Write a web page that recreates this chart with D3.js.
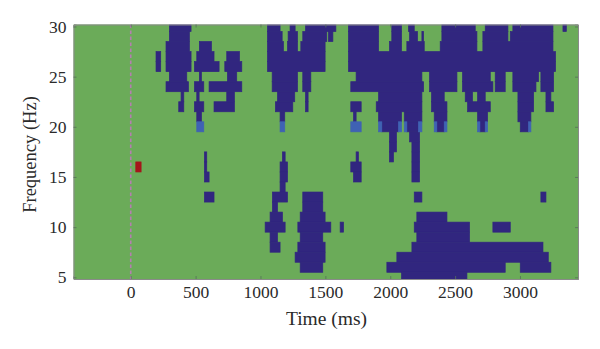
<!DOCTYPE html>
<html lang="en">
<head>
    <meta charset="utf-8" />
    <title>Time-frequency map</title>
    <script src="https://d3js.org/d3.v7.min.js"></script>
    <style>
        html, body { margin: 0; background: #fff; }
        text { font-family: "Liberation Serif", serif; fill: #2a2a2a; }
    </style>
</head>
<body>
    <div id="chart-container"></div>
    <script>
        // Tick labels
        const timeTicks = [0, 500, 1000, 1500, 2000, 2500, 3000];
        const freqTicks = [5, 10, 15, 20, 25, 30];

        // Frequency rows (Hz), top to bottom
        const freqs = [30, 29, 28, 27, 26, 25, 24, 23, 22, 21, 20, 19, 18, 17, 16, 15, 14, 13, 12, 11, 10, 9, 8, 7, 6, 5];

        // Dark blue runs in every row, [start ms, end ms], same order as freqs
        const darkRuns = [
            [[298, 465], [1054, 1151], [1228, 1267], [1347, 1581], [1678, 1910], [2012, 2087], [2141, 2185], [2398, 2655], [2732, 2907], [2945, 3254], [3331, 3357]],
            [[298, 452], [1054, 1167], [1213, 1285], [1326, 1511], [1524, 1558], [1678, 1910], [2012, 2087], [2149, 2210], [2244, 2257], [2398, 2668], [2714, 2907], [2925, 3254]],
            [[272, 452], [529, 622], [1054, 1177], [1208, 1285], [1311, 1498], [1678, 1910], [1994, 2087], [2128, 2262], [2385, 2668], [2714, 3254]],
            [[195, 231], [272, 465], [509, 642], [740, 838], [1054, 1498], [1678, 3274]],
            [[195, 231], [272, 465], [491, 681], [725, 856], [1054, 1498], [1678, 3274]],
            [[298, 432], [529, 545], [745, 817], [1090, 1285], [1326, 1388], [1737, 2244], [2303, 2514], [2557, 2771], [2809, 2886], [2945, 3143], [3161, 3259]],
            [[272, 445], [491, 563], [604, 856], [1090, 1285], [1326, 1388], [1696, 2257], [2303, 2514], [2557, 2791], [2809, 2886], [2945, 3123], [3161, 3259]],
            [[388, 409], [509, 527], [740, 799], [1131, 1264], [1347, 1367], [1910, 2244], [2318, 2416], [2578, 2634], [2673, 2732], [2984, 3105], [3200, 3238]],
            [[370, 409], [491, 563], [642, 799], [1115, 1249], [1347, 1367], [1696, 1776], [1892, 2244], [2318, 2437], [2596, 2771], [2984, 3105], [3200, 3259]],
            [[509, 545], [1151, 1187], [1717, 1737], [1910, 2087], [2108, 2244], [2339, 2437], [2673, 2750], [2984, 3084]],
            [[1935, 2064], [2128, 2218], [2359, 2416], [2691, 2732], [3002, 3066]],
            [[1994, 2048], [2149, 2226]],
            [[1994, 2048], [2167, 2226]],
            [[568, 586], [1169, 1190], [1737, 1755], [1994, 2025], [2167, 2226]],
            [[568, 586], [1151, 1208], [1696, 1776], [2167, 2226]],
            [[568, 604], [1151, 1208], [1717, 1776], [2167, 2226]],
            [[1151, 1190]],
            [[568, 642], [1092, 1208], [1326, 1480], [2185, 2244], [3161, 3200]],
            [[1092, 1131], [1326, 1480]],
            [[1074, 1169], [1306, 1498], [2205, 2437]],
            [[1036, 1190], [1288, 1542], [1614, 1640], [2185, 2611], [2791, 2925]],
            [[1074, 1131], [1306, 1480], [2205, 2611]],
            [[1074, 1151], [1288, 1498], [2167, 3177]],
            [[1267, 1498], [2051, 3218]],
            [[1306, 1480], [1974, 2886], [3002, 3238]],
            [[2087, 2591]]
        ];

        // Lighter blue runs, [frequency, start ms, end ms]
        const lightRuns = [
            [20, 509, 563], [20, 1151, 1187], [20, 1696, 1776],
            [20, 1910, 1935], [20, 2064, 2087], [20, 2108, 2128], [20, 2218, 2244],
            [20, 2339, 2359], [20, 2416, 2437], [20, 2673, 2691], [20, 2732, 2750], [20, 3066, 3084]
        ];

        // Single red cell, [frequency, start ms, end ms]
        const redRuns = [[16, 39, 80]];

        const width = 600;
        const height = 349;
        const margin = { top: 24.5, right: 22, bottom: 70, left: 73.5 };

        const svg = d3.select("#chart-container")
            .append("svg")
            .attr("width", width)
            .attr("height", height)
            .style("display", "block");

        // 0 ms sits at x = 130.7 and 3000 ms at x = 520
        const xScale = d3.scaleLinear()
            .domain([-441, 3447])
            .range([margin.left, width - margin.right]);
        const yScale = d3.scaleLinear()
            .domain([4.83, 30.2])
            .range([height - margin.bottom, margin.top]);

        svg.append("clipPath").attr("id", "plot-clip")
            .append("rect")
            .attr("x", margin.left)
            .attr("y", margin.top)
            .attr("width", width - margin.left - margin.right)
            .attr("height", height - margin.top - margin.bottom);

        // The reference is a soft scan, a slight blur on the cells gets closer to it
        const plot = svg.append("g")
            .attr("clip-path", "url(#plot-clip)")
            .append("g")
            .style("filter", "blur(0.35px)");

        // Background
        plot.append("rect")
            .attr("x", margin.left - 2)
            .attr("y", margin.top - 2)
            .attr("width", width - margin.left - margin.right + 4)
            .attr("height", height - margin.top - margin.bottom + 4)
            .attr("fill", "#6bab59");

        // Draw one run as a rect covering its 1 Hz row, stroke closes the seams between rows
        function drawRuns(runs, color) {
            plot.append("g").selectAll("rect")
                .data(runs)
                .enter().append("rect")
                .attr("x", d => xScale(d[1]))
                .attr("y", d => yScale(d[0] + 0.5))
                .attr("width", d => xScale(d[2]) - xScale(d[1]))
                .attr("height", d => yScale(d[0] - 0.5) - yScale(d[0] + 0.5))
                .attr("fill", color)
                .attr("stroke", color)
                .attr("stroke-width", 0.7);
        }

        const darkCells = freqs.flatMap((f, i) => darkRuns[i].map(r => [f, r[0], r[1]]));
        drawRuns(darkCells, "#31267f");
        drawRuns(lightRuns, "#3f62b4");
        drawRuns(redRuns, "#a5151b");

        // Dashed line at time zero
        plot.append("line")
            .attr("x1", xScale(0))
            .attr("x2", xScale(0))
            .attr("y1", margin.top)
            .attr("y2", height - margin.bottom)
            .attr("stroke", "#b57fb0")
            .attr("stroke-width", 1.6)
            .attr("stroke-dasharray", "3.5,2.5");

        // Axes, ticks point inward on all four sides
        const bottomAxis = d3.axisBottom(xScale).tickValues(timeTicks).tickFormat(d3.format("d")).tickSize(-3).tickPadding(7);
        const topAxis = d3.axisTop(xScale).tickValues(timeTicks).tickSize(-3).tickFormat("");
        const leftAxis = d3.axisLeft(yScale).tickValues(freqTicks).tickSize(-3).tickPadding(7);
        const rightAxis = d3.axisRight(yScale).tickValues(freqTicks).tickSize(-3).tickFormat("");

        svg.append("g").attr("transform", `translate(0,${height - margin.bottom})`).call(bottomAxis);
        svg.append("g").attr("transform", `translate(0,${margin.top})`).call(topAxis);
        svg.append("g").attr("transform", `translate(${margin.left},0)`).call(leftAxis);
        svg.append("g").attr("transform", `translate(${width - margin.right},0)`).call(rightAxis);

        svg.selectAll(".domain").attr("stroke", "#8a8a8a").attr("stroke-width", 1);
        svg.selectAll(".tick line").attr("stroke", "#55705a").attr("stroke-width", 0.8);
        svg.selectAll(".tick text")
            .style("font-family", "'Liberation Serif', serif")
            .style("font-size", "17.5px")
            .attr("fill", "#2a2a2a");

        // Axis titles
        svg.append("text")
            .attr("x", 326.5)
            .attr("y", 325)
            .attr("text-anchor", "middle")
            .style("font-size", "19.5px")
            .text("Time (ms)");

        svg.append("text")
            .attr("transform", "translate(35.5,154.5) rotate(-90)")
            .attr("text-anchor", "middle")
            .style("font-size", "18.5px")
            .text("Frequency (Hz)");
    </script>
</body>
</html>
